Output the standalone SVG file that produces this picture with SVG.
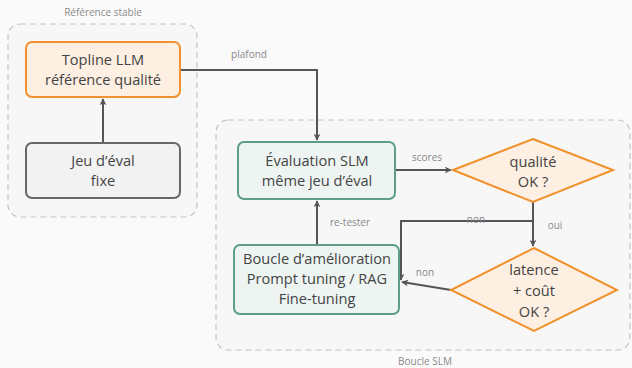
<svg xmlns="http://www.w3.org/2000/svg" width="632" height="368" viewBox="0 0 632 368">
  <style>
    .cluster { fill: #f7f7f8; stroke: #c4c4c4; stroke-width: 1.2; stroke-dasharray: 6 4; }
    .clabel { font-family: "Open Sans", "Noto Sans", sans-serif; font-size: 10px; fill: #8a8a8a; text-anchor: middle; }
    .txt { font-family: "Open Sans", "Noto Sans", sans-serif; font-size: 14.6px; fill: #444; text-anchor: middle; }
    .elabel { font-family: "Open Sans", "Noto Sans", sans-serif; font-size: 10px; fill: #888; text-anchor: middle; }
    .orange { fill: #fdefe1; stroke: #f0912c; stroke-width: 2; }
    .gray { fill: #f2f2f2; stroke: #686868; stroke-width: 2; }
    .teal { fill: #edf4f2; stroke: #5c9e8d; stroke-width: 2; }
    .edge { fill: none; stroke: #555; stroke-width: 2; }
  </style>
  <defs>
    <marker id="arrow" viewBox="0 0 10 10" refX="9" refY="5" markerWidth="7" markerHeight="7" orient="auto-start-reverse" markerUnits="userSpaceOnUse">
      <path d="M0,0 L10,5 L0,10 L3,5 z" fill="#555"/>
    </marker>
  </defs>
  <rect width="632" height="368" fill="#fafafa"/>

  <!-- clusters -->
  <g id="cluster-reference">
    <rect class="cluster" x="8" y="24" width="189" height="193" rx="12"/>
    <text class="clabel" x="103" y="16">Référence stable</text>
  </g>
  <g id="cluster-boucle">
    <rect class="cluster" x="216" y="120" width="414" height="230" rx="12"/>
    <text class="clabel" x="425" y="365">Boucle SLM</text>
  </g>

  <!-- connectors -->
  <g id="connectors">
    <path class="edge" d="M103,143 L103,99" marker-end="url(#arrow)"/>
    <path class="edge" d="M180,70 L317,70 L317,140" marker-end="url(#arrow)"/>
    <text class="elabel" x="249" y="58">plafond</text>
    <path class="edge" d="M395,170 L451,170" marker-end="url(#arrow)"/>
    <text class="elabel" x="427" y="161">scores</text>
    <path class="edge" d="M533,202 L533,246" marker-end="url(#arrow)"/>
    <text class="elabel" x="555" y="229">oui</text>
    <path class="edge" d="M533,221 L401,221 L401,280" marker-end="url(#arrow)"/>
    <text class="elabel" x="476" y="223">non</text>
    <path class="edge" d="M451,290 L402,282" marker-end="url(#arrow)"/>
    <text class="elabel" x="425" y="276">non</text>
    <path class="edge" d="M317,245 L317,201" marker-end="url(#arrow)"/>
    <text class="elabel" x="350" y="226">re-tester</text>
  </g>

  <!-- nodes -->
  <g id="topline">
    <rect class="orange" x="26" y="42" width="154" height="55" rx="6"/>
    <text class="txt" x="103" y="65">Topline LLM</text>
    <text class="txt" x="103" y="84.5">référence qualité</text>
  </g>
  <g id="jeu-eval">
    <rect class="gray" x="26" y="143" width="154" height="55" rx="6"/>
    <text class="txt" x="103" y="166">Jeu d’éval</text>
    <text class="txt" x="103" y="186">fixe</text>
  </g>
  <g id="evaluation">
    <rect class="teal" x="238" y="142" width="157" height="57" rx="6"/>
    <text class="txt" x="317" y="166">Évaluation SLM</text>
    <text class="txt" x="317" y="186">même jeu d’éval</text>
  </g>
  <g id="qualite">
    <polygon class="orange" points="533,139 613,170 533,202 453,170"/>
    <text class="txt" x="533" y="166.5">qualité</text>
    <text class="txt" x="533" y="186.5">OK ?</text>
  </g>
  <g id="latence">
    <polygon class="orange" points="534,248 617,290 534,331 451,290"/>
    <text class="txt" x="534" y="275">latence</text>
    <text class="txt" x="534" y="296">+ coût</text>
    <text class="txt" x="534" y="317">OK ?</text>
  </g>
  <g id="amelioration">
    <rect class="teal" x="234" y="245" width="165" height="69" rx="6"/>
    <text class="txt" x="317" y="264">Boucle d’amélioration</text>
    <text class="txt" x="317" y="284">Prompt tuning / RAG</text>
    <text class="txt" x="317" y="303.5">Fine-tuning</text>
  </g>
</svg>
